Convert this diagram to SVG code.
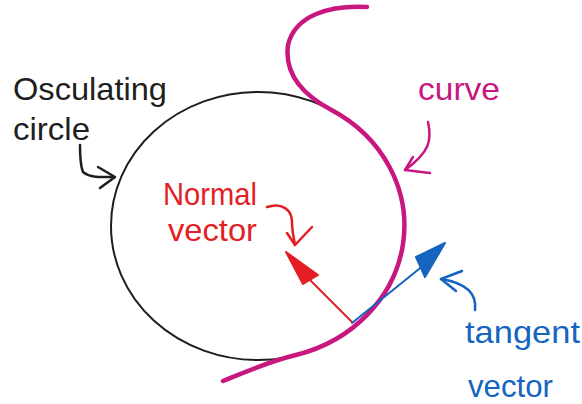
<svg xmlns="http://www.w3.org/2000/svg" width="582" height="404" viewBox="0 0 582 404">
<style>
.hand{font-family:"Liberation Sans","DejaVu Sans",sans-serif;font-size:32px}
.stroke{fill:none;stroke-linecap:round;stroke-linejoin:round}
.black{stroke:#1e1e1e}
.red{stroke:#e31e24}
.mag{stroke:#c8177f}
.blue{stroke:#1565c0}
</style>
<rect width="582" height="404" fill="#ffffff"/>
<g id="circle">
<ellipse class="stroke black" stroke-width="2" cx="258" cy="226" rx="147" ry="134"/>
</g>
<g id="curve">
<path class="stroke mag" stroke-width="4.5" d="M367,7 C330,5 295,15 288,45 C284,75 305,96 331.5,110 A147,134 0 0 1 296,355 C270,361 245,372 223,381"/>
</g>
<g id="normal-vector">
<path class="stroke red" stroke-width="2" d="M352,322 L300,270"/>
<path fill="#e31e24" stroke="#e31e24" stroke-width="2" stroke-linejoin="round" d="M286,252 L318,275 L303,284 Z"/>
</g>
<g id="tangent-vector">
<path class="stroke blue" stroke-width="2" d="M352,323 L424,265"/>
<path fill="#1565c0" stroke="#1565c0" stroke-width="2" stroke-linejoin="round" d="M445,243 L416,257 L425,277 Z"/>
</g>
<g id="connectors">
<path class="stroke black" stroke-width="2.5" d="M80,145 C80,155 80,165 83,172 C90,178 100,177 113,177"/>
<path class="stroke black" stroke-width="2.5" d="M98,167 L115,177 L100,188"/>
<path class="stroke mag" stroke-width="2.5" d="M428,122 C432,140 430,152 405,170"/>
<path class="stroke mag" stroke-width="2.5" d="M413,157 L405,170 L430,173"/>
<path class="stroke red" stroke-width="2.5" d="M267,207 C282,202 292,210 292,222 C292,232 294,238 295,245"/>
<path class="stroke red" stroke-width="2.5" d="M287,233 L295,245 L312,227"/>
<path class="stroke blue" stroke-width="2.5" d="M475,310 C477,294 466,283 441,279"/>
<path class="stroke blue" stroke-width="2.5" d="M462,271 L441,279 L456,291"/>
</g>
<g id="label-osculating">
<text class="hand" fill="#1e1e1e" x="13" y="100" textLength="154" lengthAdjust="spacingAndGlyphs">Osculating</text>
<text class="hand" fill="#1e1e1e" x="13" y="140" textLength="77" lengthAdjust="spacingAndGlyphs">circle</text>
</g>
<g id="label-curve">
<text class="hand" fill="#c8177f" x="418" y="100" textLength="82" lengthAdjust="spacingAndGlyphs">curve</text>
</g>
<g id="label-normal">
<text class="hand" fill="#e31e24" x="163" y="205" textLength="94" lengthAdjust="spacingAndGlyphs">Normal</text>
<text class="hand" fill="#e31e24" x="168" y="241" textLength="89" lengthAdjust="spacingAndGlyphs">vector</text>
</g>
<g id="label-tangent">
<text class="hand" fill="#1565c0" x="465" y="343" textLength="115" lengthAdjust="spacingAndGlyphs">tangent</text>
<text class="hand" fill="#1565c0" x="468" y="397" textLength="85" lengthAdjust="spacingAndGlyphs">vector</text>
</g>
</svg>
